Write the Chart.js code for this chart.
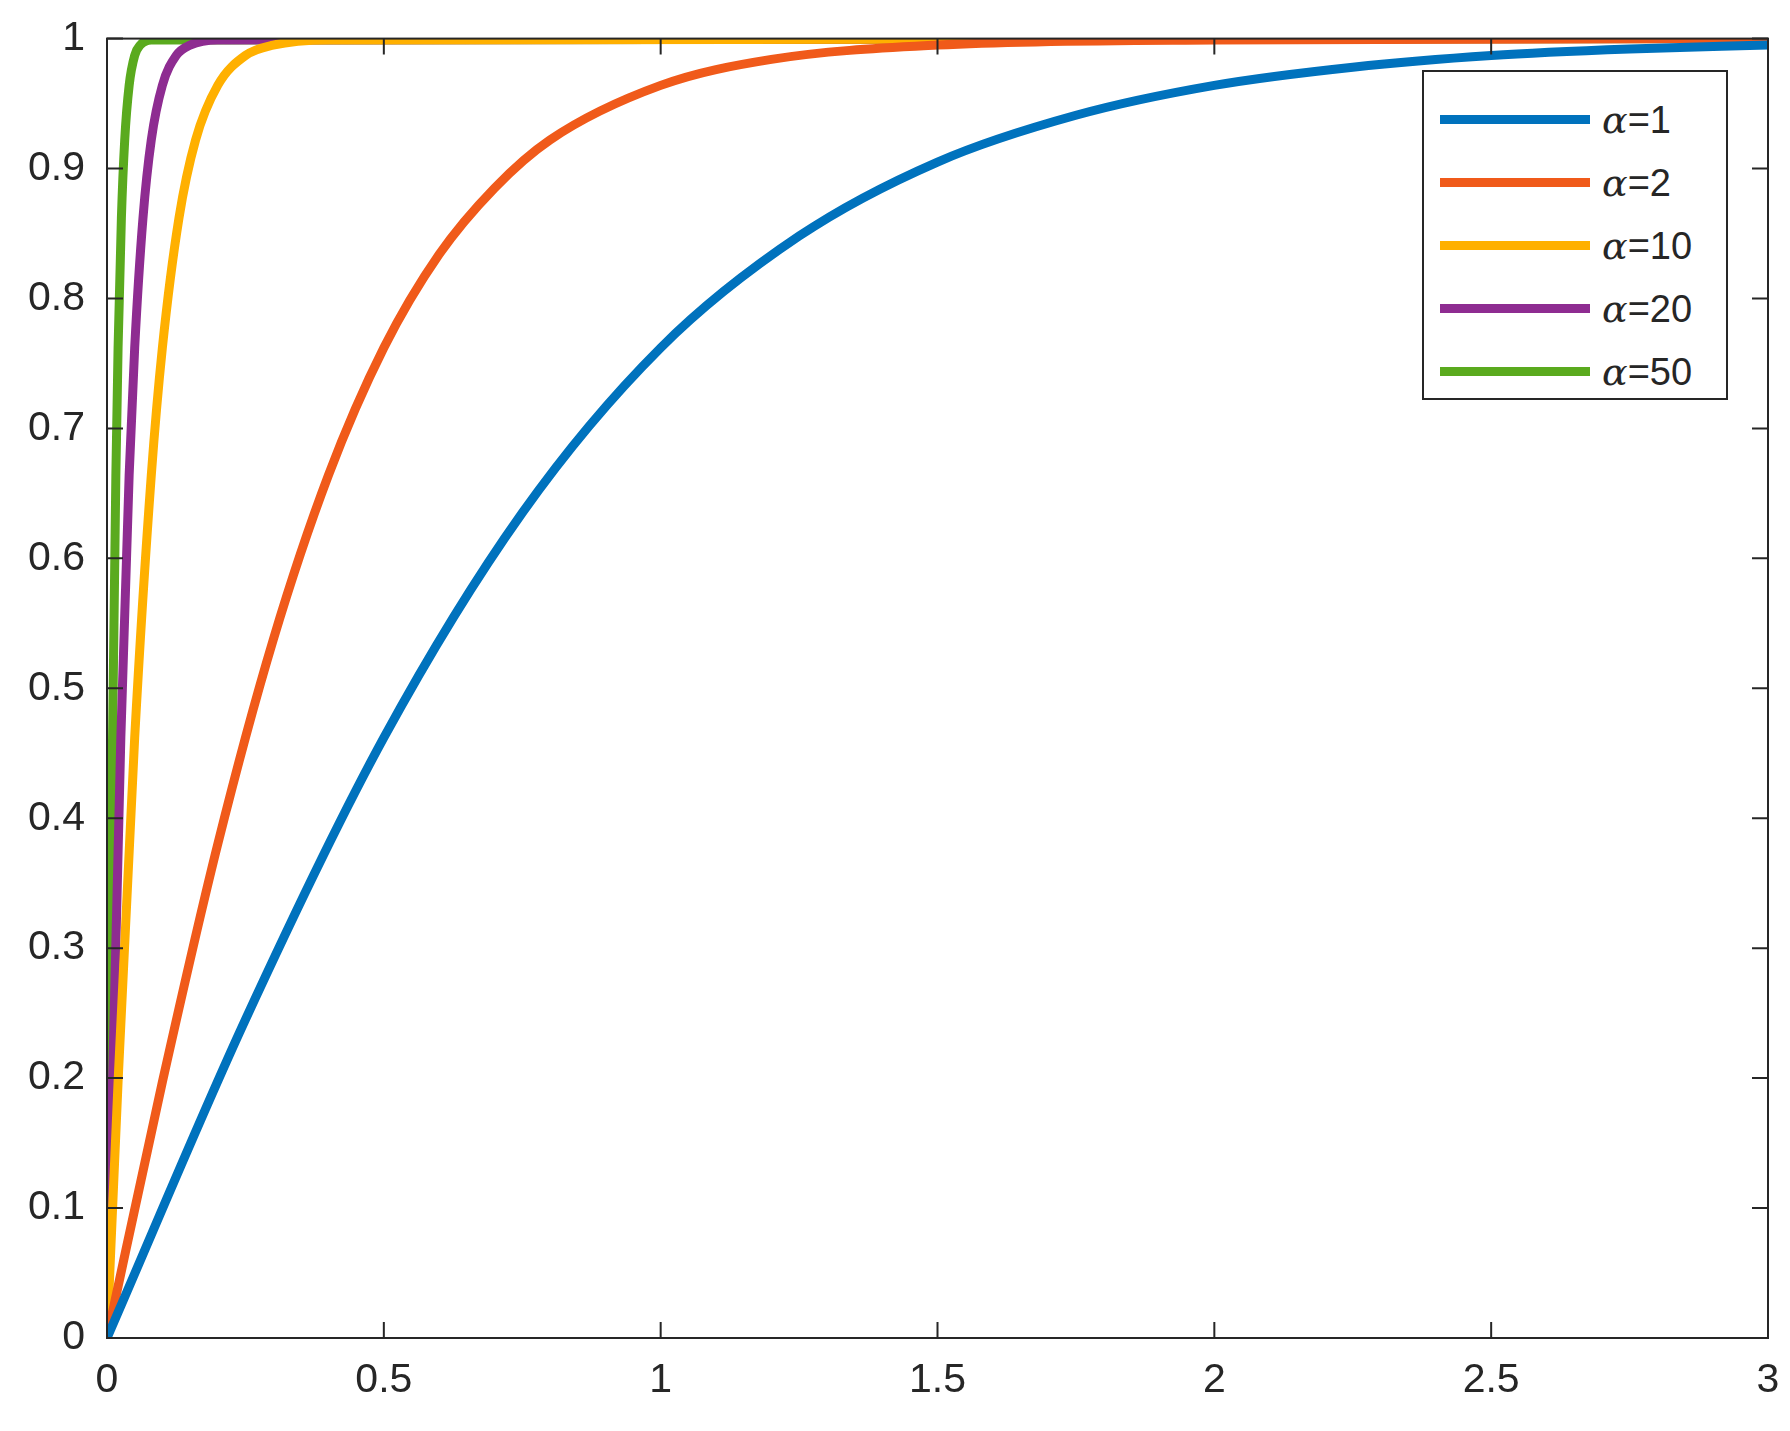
<!doctype html>
<html lang="en">
<head>
<meta charset="utf-8">
<title>tanh curves</title>
<script src="https://cdn.jsdelivr.net/npm/chart.js@4.4.0/dist/chart.umd.min.js"></script>
<style>
    body { margin: 0; background: #fff; }
    #wrap { position: relative; width: 1790px; height: 1431px; }
    #legend {
        position: absolute; left: 1422px; top: 70px; width: 306px; height: 330px;
        border: 2px solid #262626; background: #fff; box-sizing: border-box;
        font-family: "Liberation Sans", Arial, sans-serif; font-size: 38px; color: #262626;
        padding-top: 16px;
    }
    #legend .row { display: flex; align-items: center; height: 63px; }
    #legend .sw { width: 150px; height: 9px; margin-left: 16px; margin-right: 12px; }
    #legend i { font-family: "DejaVu Serif", serif; }
</style>
</head>
<body>
<div id="wrap">
    <canvas id="myChart" width="1790" height="1431"></canvas>
    <div id="legend"></div>
</div>
<script>
    // series values
    var labels = ["α=1", "α=2", "α=10", "α=20", "α=50"];
    var colors = ["#0072BD", "#F05A1A", "#FFB000", "#8E2C91", "#5AAA1E"];

    var x1 = [0, 0.25, 0.5, 0.75, 1, 1.25, 1.5, 1.75, 2, 2.25, 2.5, 2.75, 3];
    var y1 = [0, 0.245, 0.462, 0.635, 0.762, 0.848, 0.905, 0.941, 0.964, 0.978, 0.987, 0.992, 0.995];
    var x2 = [0, 0.1, 0.2, 0.3, 0.4, 0.5, 0.6, 0.7, 0.8, 1, 1.2, 1.5, 2, 3];
    var y2 = [0, 0.197, 0.38, 0.537, 0.664, 0.762, 0.834, 0.885, 0.922, 0.964, 0.984, 0.995, 0.999, 1];
    var x3 = [0, 0.02, 0.05, 0.08, 0.1, 0.13, 0.16, 0.2, 0.25, 0.3, 0.4, 3];
    var x4 = [0, 0.01, 0.025, 0.04, 0.05, 0.065, 0.08, 0.1, 0.125, 0.15, 0.2, 3];
    var x5 = [0, 0.004, 0.01, 0.016, 0.02, 0.026, 0.032, 0.04, 0.05, 0.06, 0.08, 3];
    var yFast = [0, 0.197, 0.462, 0.664, 0.762, 0.862, 0.922, 0.964, 0.987, 0.995, 0.999, 1];

    var xTicks = [0, 0.5, 1, 1.5, 2, 2.5, 3];
    var yTicks = [0, 0.1, 0.2, 0.3, 0.4, 0.5, 0.6, 0.7, 0.8, 0.9, 1];

    let pts = (xs, ys) => xs.map((v, i) => ({ x: v, y: ys[i] }));
    var seriesData = [pts(x1, y1), pts(x2, y2), pts(x3, yFast), pts(x4, yFast), pts(x5, yFast)];

    // matlab style box with inward ticks
    var boxPlugin = {
        id: 'box',
        afterDraw(chart) {
            let c = chart.ctx, a = chart.chartArea;
            let sx = chart.scales.x, sy = chart.scales.y;
            c.save();
            c.strokeStyle = '#262626';
            c.lineWidth = 2;
            c.strokeRect(a.left, a.top, a.right - a.left, a.bottom - a.top);
            c.beginPath();
            xTicks.forEach(v => {
                let p = sx.getPixelForValue(v);
                c.moveTo(p, a.bottom); c.lineTo(p, a.bottom - 16);
                c.moveTo(p, a.top); c.lineTo(p, a.top + 16);
            });
            yTicks.forEach(v => {
                let p = sy.getPixelForValue(v);
                c.moveTo(a.left, p); c.lineTo(a.left + 16, p);
                c.moveTo(a.right, p); c.lineTo(a.right - 16, p);
            });
            c.stroke();
            c.restore();
        }
    };

    var tickFont = { family: "'Liberation Sans', Arial, sans-serif", size: 41 };

    new Chart(document.getElementById('myChart'), {
        type: 'line',
        data: {
            datasets: seriesData.map((d, i) => ({
                label: labels[i], data: d, borderColor: colors[i],
                borderWidth: 9, pointRadius: 0, cubicInterpolationMode: 'monotone', fill: false
            }))
        },
        options: {
            responsive: false, animation: false,
            layout: { padding: { top: 30, right: 22, left: 0, bottom: 0 } },
            plugins: { legend: { display: false }, tooltip: { enabled: false } },
            scales: {
                x: {
                    type: 'linear', min: 0, max: 3,
                    afterBuildTicks: s => { s.ticks = xTicks.map(v => ({ value: v })); },
                    grid: { display: false }, border: { display: false },
                    ticks: { color: '#262626', font: tickFont, padding: 10, maxRotation: 0, callback: v => String(v) },
                    afterFit: s => { s.height = 93; }
                },
                y: {
                    min: 0, max: 1,
                    afterBuildTicks: s => { s.ticks = yTicks.map(v => ({ value: v })); },
                    grid: { display: false }, border: { display: false },
                    ticks: { color: '#262626', font: tickFont, padding: 14, callback: v => String(v) },
                    afterFit: s => { s.width = 107; }
                }
            }
        },
        plugins: [boxPlugin]
    });

    // html legend inside plot box
    var lg = document.getElementById('legend');
    labels.forEach((t, i) => {
        let row = document.createElement('div');
        row.className = 'row';
        row.innerHTML = '<div class="sw" style="background:' + colors[i] + '"></div><span><i>α</i>' + t.slice(1) + '</span>';
        lg.appendChild(row);
    });
</script>
</body>
</html>
